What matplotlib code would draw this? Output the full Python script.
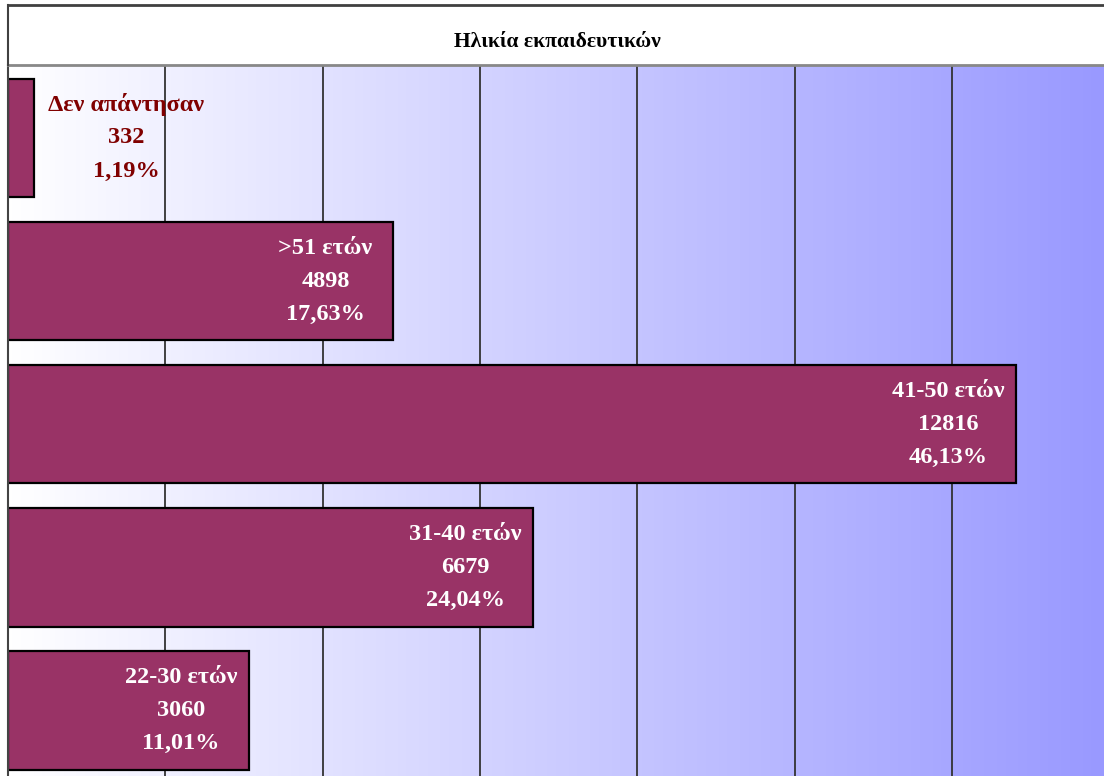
import matplotlib.pyplot as plt
import numpy as np
from matplotlib.lines import Line2D

categories = ["Δεν απάντησαν", ">51 ετών", "41-50 ετών", "31-40 ετών", "22-30 ετών"]
counts = [332, 4898, 12816, 6679, 3060]
percents = ["1,19%", "17,63%", "46,13%", "24,04%", "11,01%"]
title = "Ηλικία εκπαιδευτικών"

W, H = 1104, 776
fig = plt.figure(figsize=(W / 100, H / 100), dpi=100)
fig.patch.set_facecolor("white")

serif = ["Liberation Serif", "DejaVu Serif"]

# plot area below the title band
ax = fig.add_axes([8 / W, 0, (W - 8) / W, (H - 65) / H])
xmax = 13930
ax.set_xlim(0, xmax)
ax.set_ylim(4.46, -0.51)

# gradient background, white -> periwinkle
grad = np.linspace(0, 1, 256).reshape(1, -1)
ax.imshow(grad, extent=[0, xmax, 4.46, -0.51], aspect="auto", zorder=0,
          cmap=plt.matplotlib.colors.LinearSegmentedColormap.from_list(
              "bg", ["#ffffff", "#9999ff"]))

ax.set_xticks(np.arange(2000, 14000, 2000))
ax.set_yticks([])
ax.tick_params(axis="x", length=0, labelbottom=False)
ax.xaxis.grid(True, color="#333333", linewidth=1.3)
ax.set_axisbelow(True)
for s in ["right", "bottom"]:
    ax.spines[s].set_visible(False)
ax.spines["top"].set_color("#888888")
ax.spines["top"].set_linewidth(2)
ax.spines["left"].set_color("#444444")
ax.spines["left"].set_linewidth(1.5)

y = np.arange(len(categories))
ax.barh(y, counts, height=0.83, color="#993366", edgecolor="black",
        linewidth=1.6, zorder=2)

for i, (cat, n, p) in enumerate(zip(categories, counts, percents)):
    lines = [cat, str(n), p]
    if n < 1000:
        dx, col = 92, "#800000"
    else:
        dx, col = -68, "white"
    for k, txt in enumerate(lines):
        ax.annotate(txt, xy=(n, i), xytext=(dx, (1 - k) * 33),
                    textcoords="offset pixels", ha="center", va="center",
                    color=col, fontsize=17.5, fontweight="bold", family=serif,
                    zorder=3)

# title box borders
fig.add_artist(Line2D([8 / W, 1], [1 - 5 / H, 1 - 5 / H], color="#404040", linewidth=2))
fig.add_artist(Line2D([8 / W, 8 / W], [1 - 5 / H, 1 - 65 / H], color="#404040", linewidth=1.5))
fig.text(557 / W, 1 - 42 / H, title, ha="center", va="center",
         fontsize=15.5, fontweight="bold", family=serif)

plt.savefig("out.png", dpi=100)
